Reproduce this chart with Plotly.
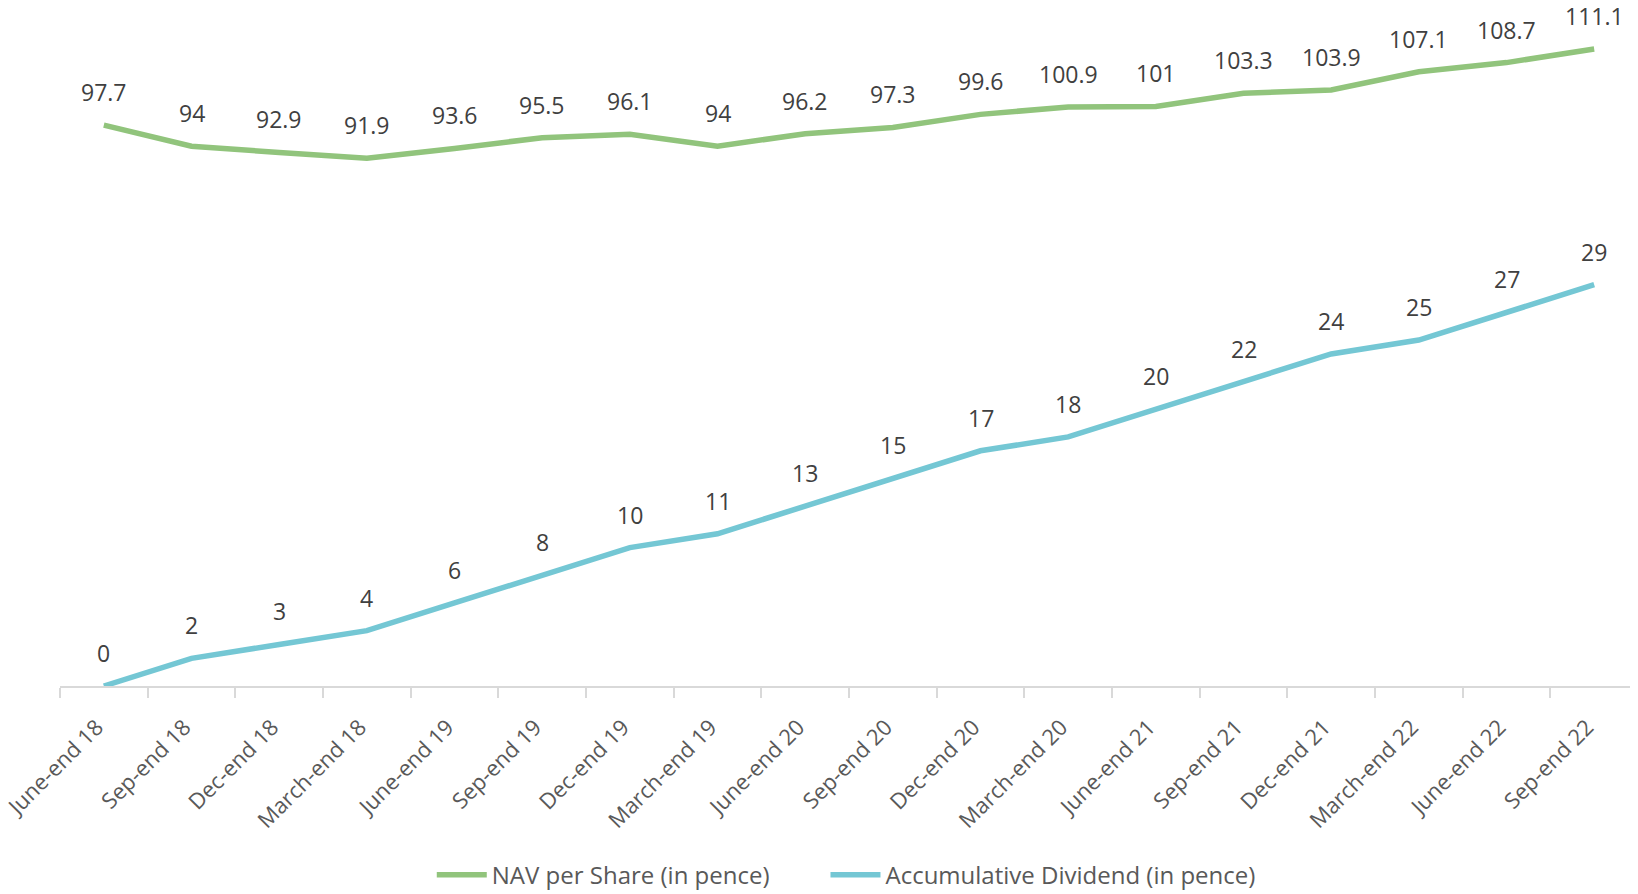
"""
NAV per Share vs Accumulative Dividend - line chart
"""

import plotly.graph_objects as go

# Datos
quarters = [
    "June-end 18", "Sep-end 18", "Dec-end 18", "March-end 18",
    "June-end 19", "Sep-end 19", "Dec-end 19", "March-end 19",
    "June-end 20", "Sep-end 20", "Dec-end 20", "March-end 20",
    "June-end 21", "Sep-end 21", "Dec-end 21", "March-end 22",
    "June-end 22", "Sep-end 22",
]
nav_per_share = [97.7, 94, 92.9, 91.9, 93.6, 95.5, 96.1, 94, 96.2, 97.3,
                 99.6, 100.9, 101, 103.3, 103.9, 107.1, 108.7, 111.1]
accum_dividend = [0, 2, 3, 4, 6, 8, 10, 11, 13, 15, 17, 18, 20, 22, 24, 25, 27, 29]

COLOR_NAV = "#91c47c"
COLOR_DIV = "#74c7d4"
FONT = "Open Sans"

fig = go.Figure()

fig.add_trace(go.Scatter(
    x=quarters, y=nav_per_share,
    name="NAV per Share (in pence)",
    mode="lines",
    line=dict(color=COLOR_NAV, width=5.5),
    yaxis="y2",
    legend="legend",
))

fig.add_trace(go.Scatter(
    x=quarters, y=accum_dividend,
    name="Accumulative Dividend (in pence)",
    mode="lines",
    line=dict(color=COLOR_DIV, width=5.5),
    legend="legend2",
))

# Etiquetas de datos
annotations = []
for q, v in zip(quarters, nav_per_share):
    annotations.append(dict(
        x=q, y=v, xref="x", yref="y2", text=f"{v:g}", showarrow=False,
        yshift=33, font=dict(family=FONT, size=23, color="#404040"),
    ))
for q, v in zip(quarters, accum_dividend):
    annotations.append(dict(
        x=q, y=v, xref="x", yref="y", text=f"{v:g}", showarrow=False,
        yshift=33, font=dict(family=FONT, size=23, color="#404040"),
    ))

legend_style = dict(
    orientation="h", xanchor="left", y=-0.279, yanchor="middle",
    font=dict(family=FONT, size=24, color="#595959"),
    itemwidth=50, bgcolor="rgba(0,0,0,0)",
)

# la página deja 8 px de margen alrededor de la figura
fig.update_layout(
    width=1630, height=886,
    margin=dict(l=52, r=0, t=0, b=208, autoexpand=False),
    paper_bgcolor="white",
    plot_bgcolor="white",
    font=dict(family=FONT, size=22, color="#595959"),
    showlegend=True,
    legend=dict(x=0.2356, **legend_style),
    legend2=dict(x=0.4851, **legend_style),
    annotations=annotations,
    xaxis=dict(
        type="category",
        range=[-0.5, len(quarters) - 0.5],
        automargin=False,
        tickangle=-45,
        tickson="boundaries",
        ticks="outside", ticklen=10, tickcolor="#d9d9d9", tickwidth=1.5,
        ticklabelstandoff=18, ticklabelshift=-7,
        showline=True, linecolor="#d9d9d9", linewidth=1.5,
        showgrid=False, zeroline=False,
        tickfont=dict(family=FONT, size=22, color="#595959"),
    ),
    yaxis=dict(
        range=[0, 49.0], automargin=False,
        showticklabels=False, showgrid=False, zeroline=False, showline=False,
    ),
    yaxis2=dict(
        range=[-0.9, 118.3], overlaying="y", side="right", automargin=False,
        showticklabels=False, showgrid=False, zeroline=False, showline=False,
    ),
)

fig.write_html("out.html")
